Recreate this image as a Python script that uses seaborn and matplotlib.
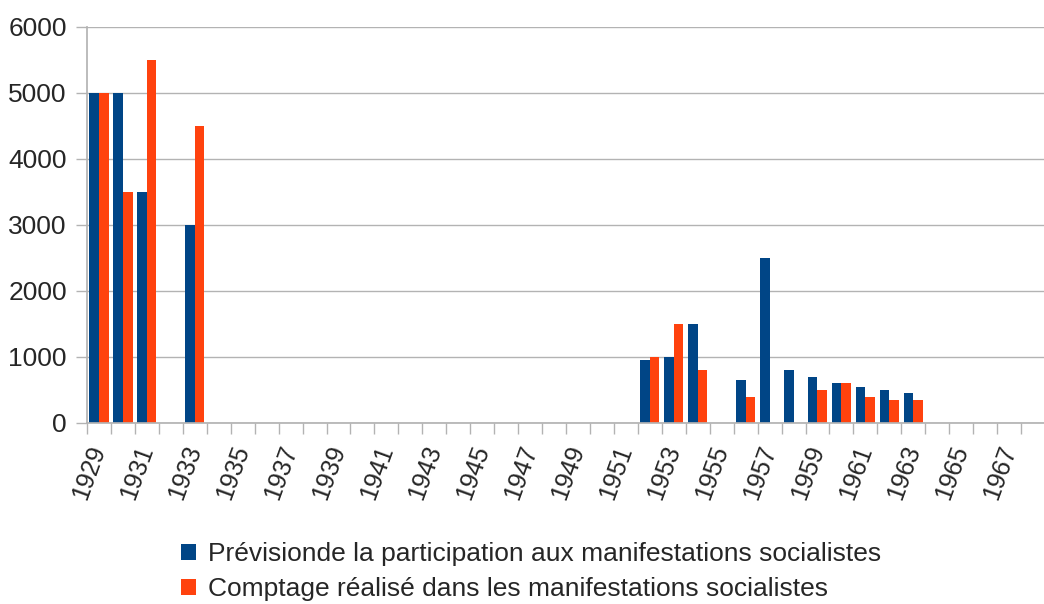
import numpy as np
import pandas as pd
import matplotlib
matplotlib.use("Agg")
import matplotlib.pyplot as plt
from matplotlib.patches import Patch
from matplotlib.ticker import FixedLocator, NullFormatter
import seaborn as sns

years = list(range(1929, 1969))
prevision = {1929: 5000, 1930: 5000, 1931: 3500, 1933: 3000,
             1952: 950, 1953: 1000, 1954: 1500, 1956: 650, 1957: 2500,
             1958: 800, 1959: 700, 1960: 600, 1961: 550, 1962: 500, 1963: 450}
comptage = {1929: 5000, 1930: 3500, 1931: 5500, 1933: 4500,
            1952: 1000, 1953: 1500, 1954: 800, 1956: 400,
            1959: 500, 1960: 600, 1961: 400, 1962: 350, 1963: 350}
series_names = ["Prévisionde la participation aux manifestations socialistes",
                "Comptage réalisé dans les manifestations socialistes"]
colors = ["#004586", "#ff420e"]
yticks = [0, 1000, 2000, 3000, 4000, 5000, 6000]

rows = []
for y in years:
    rows.append({"year": str(y), "serie": series_names[0], "value": prevision.get(y, np.nan)})
    rows.append({"year": str(y), "serie": series_names[1], "value": comptage.get(y, np.nan)})
df = pd.DataFrame(rows)

sns.set_theme(style="white")
plt.rcParams['font.family'] = ['Liberation Sans', 'DejaVu Sans']

fig = plt.figure(figsize=(10.44, 6.04), dpi=100)
ax = fig.add_axes([87/1044, 1 - 423/604, (1045-87)/1044, (423-27)/604])

sns.barplot(data=df, x="year", y="value", hue="serie", order=[str(y) for y in years],
            hue_order=series_names, palette=colors, width=0.8, ax=ax,
            saturation=1, legend=False, errorbar=None)
for p in ax.patches:
    p.set_edgecolor("none")

ax.set_xlim(-0.5, len(years) - 0.5)
ax.set_ylim(0, 6000)
ax.set_yticks(yticks)
ax.set_yticklabels([str(v) for v in yticks], fontsize=19)
ax.yaxis.grid(True, color="#b3b3b3", linewidth=1)
ax.set_axisbelow(True)
ax.set_xlabel("")
ax.set_ylabel("")

major = list(range(0, len(years), 2))
ax.set_xticks(major)
ax.set_xticklabels([str(years[i]) for i in major], rotation=70, fontsize=18,
                   ha="right", va="center", rotation_mode="anchor")
ax.tick_params(axis="x", which="major", length=0, pad=17)
ax.xaxis.set_minor_locator(FixedLocator([i - 0.5 for i in range(len(years) + 1)]))
ax.xaxis.set_minor_formatter(NullFormatter())
ax.tick_params(axis="x", which="minor", length=8, color="#b3b3b3", width=1, bottom=True)
ax.tick_params(axis="y", length=8, color="#b3b3b3", width=1, pad=6.5, left=True)

for s in ["top", "right"]:
    ax.spines[s].set_visible(False)
ax.spines["left"].set_color("#b3b3b3")
ax.spines["bottom"].set_color("#b3b3b3")

handles = [Patch(facecolor=c, edgecolor="none") for c in colors]
fig.legend(handles, series_names, loc="upper left", bbox_to_anchor=(168/1044, 1 - 529/604),
           ncol=1, frameon=False, fontsize=19, handlelength=0.55, handleheight=0.55,
           handletextpad=0.45, labelspacing=0.42, borderpad=0)

fig.savefig("out.png", dpi=100)
